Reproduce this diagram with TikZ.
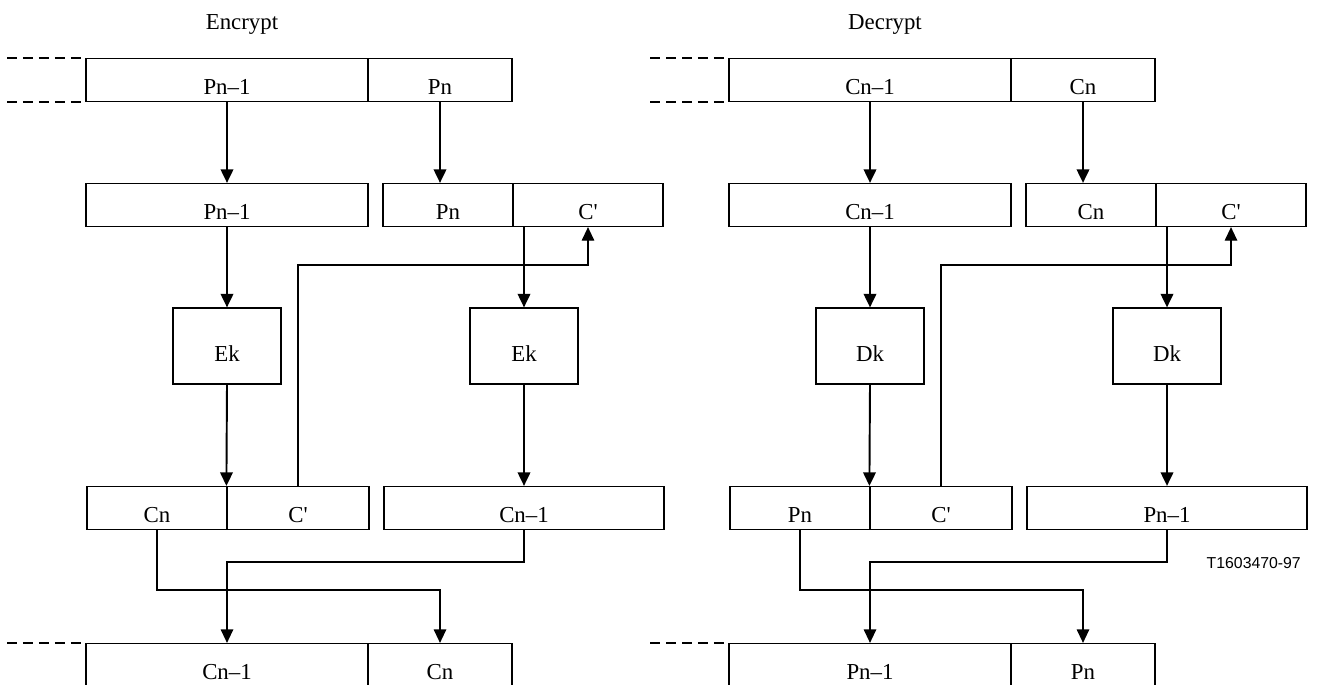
\documentclass[tikz,border=0pt]{standalone}
\usepackage{fontspec}
\setmainfont{Liberation Serif}
\newfontfamily\tagfont{Liberation Sans}
\usetikzlibrary{arrows.meta}
\tikzset{
	cell/.style={draw, line width=0.7pt, inner sep=0pt, minimum height=0.86cm, text height=0.58cm, text depth=0pt},
	keybox/.style={draw, line width=0.7pt, inner sep=0pt, minimum width=2.16cm, minimum height=1.52cm, text height=0.6cm, text depth=0pt},
	flow/.style={-{Triangle[length=0.27cm, width=0.25cm]}, line width=1.1pt},
	feed/.style={-{Triangle[length=0.27cm, width=0.25cm]}, line width=0.7pt},
	stub/.style={line width=0.9pt, dash pattern=on 0.2cm off 0.12cm}
}

\begin{document}
\begin{tikzpicture}[x=0.02cm, y=-0.02cm, font=\fontsize{13}{15}\selectfont]
	\useasboundingbox (0,0) rectangle (1318,684);
	\clip (0,0) rectangle (1318,684);

	% encrypt side
	\node[anchor=base] (enctitle) at (242,29) {Encrypt};
	\node[cell, minimum width=5.64cm] (etop1) at (227,80) {Pn–1};
	\node[cell, minimum width=2.88cm] (etop2) at (440,80) {Pn};
	\node[cell, minimum width=5.64cm] (erow2a) at (227,205) {Pn–1};
	\node[cell, minimum width=2.6cm] (erow2b) at (448,205) {Pn};
	\node[cell, minimum width=3cm] (erow2c) at (588,205) {C\textquotesingle};
	\node[keybox] (eek1) at (227,346) {Ek};
	\node[keybox] (eek2) at (524,346) {Ek};
	\node[cell, minimum width=2.8cm] (erow4a) at (157,508) {Cn};
	\node[cell, minimum width=2.84cm] (erow4b) at (298,508) {C\textquotesingle};
	\node[cell, minimum width=5.6cm] (erow4c) at (524,508) {Cn–1};
	\node[cell, minimum width=5.64cm] (ebot1) at (227,665) {Cn–1};
	\node[cell, minimum width=2.88cm] (ebot2) at (440,665) {Cn};
	\coordinate (edash) at (7,0);

	\draw[stub] (edash |- etop1.north west) -- (etop1.north west);
	\draw[stub] (edash |- etop1.south west) -- (etop1.south west);
	\draw[stub] (edash |- ebot1.north west) -- (ebot1.north west);
	\draw[flow] (etop1) -- (erow2a);
	\draw[flow] (etop2.south) -- (etop2.south |- erow2b.north);
	\draw[flow] (erow2a) -- (eek1);
	\draw[flow] (eek2.north |- erow2c.south) -- (eek2.north);
	\draw[flow] (eek1.south) -- (erow4b.north west);
	\draw[flow] (eek2) -- (erow4c);
	\draw[feed] (erow4b.north) -- (erow4b.north |- 0,265) -| (erow2c.south);
	\draw[feed] (erow4a.south) -- (erow4a.south |- 0,590) -| (ebot2.north);
	\draw[feed] (erow4c.south) -- (erow4c.south |- 0,562) -| (ebot1.north);

	% decrypt side
	\node[anchor=base] (dectitle) at (885,29) {Decrypt};
	\node[cell, minimum width=5.64cm] (dtop1) at (870,80) {Cn–1};
	\node[cell, minimum width=2.88cm] (dtop2) at (1083,80) {Cn};
	\node[cell, minimum width=5.64cm] (drow2a) at (870,205) {Cn–1};
	\node[cell, minimum width=2.6cm] (drow2b) at (1091,205) {Cn};
	\node[cell, minimum width=3cm] (drow2c) at (1231,205) {C\textquotesingle};
	\node[keybox] (ddk1) at (870,346) {Dk};
	\node[keybox] (ddk2) at (1167,346) {Dk};
	\node[cell, minimum width=2.8cm] (drow4a) at (800,508) {Pn};
	\node[cell, minimum width=2.84cm] (drow4b) at (941,508) {C\textquotesingle};
	\node[cell, minimum width=5.6cm] (drow4c) at (1167,508) {Pn–1};
	\node[cell, minimum width=5.64cm] (dbot1) at (870,665) {Pn–1};
	\node[cell, minimum width=2.88cm] (dbot2) at (1083,665) {Pn};
	\coordinate (ddash) at (650,0);

	\draw[stub] (ddash |- dtop1.north west) -- (dtop1.north west);
	\draw[stub] (ddash |- dtop1.south west) -- (dtop1.south west);
	\draw[stub] (ddash |- dbot1.north west) -- (dbot1.north west);
	\draw[flow] (dtop1) -- (drow2a);
	\draw[flow] (dtop2.south) -- (dtop2.south |- drow2b.north);
	\draw[flow] (drow2a) -- (ddk1);
	\draw[flow] (ddk2.north |- drow2c.south) -- (ddk2.north);
	\draw[flow] (ddk1.south) -- (drow4b.north west);
	\draw[flow] (ddk2) -- (drow4c);
	\draw[feed] (drow4b.north) -- (drow4b.north |- 0,265) -| (drow2c.south);
	\draw[feed] (drow4a.south) -- (drow4a.south |- 0,590) -| (dbot2.north);
	\draw[feed] (drow4c.south) -- (drow4c.south |- 0,562) -| (dbot1.north);

	\node[font=\tagfont\fontsize{9}{11}\selectfont, anchor=base east] (figtag) at (1307,568) {T1603470-97};
\end{tikzpicture}
\end{document}
